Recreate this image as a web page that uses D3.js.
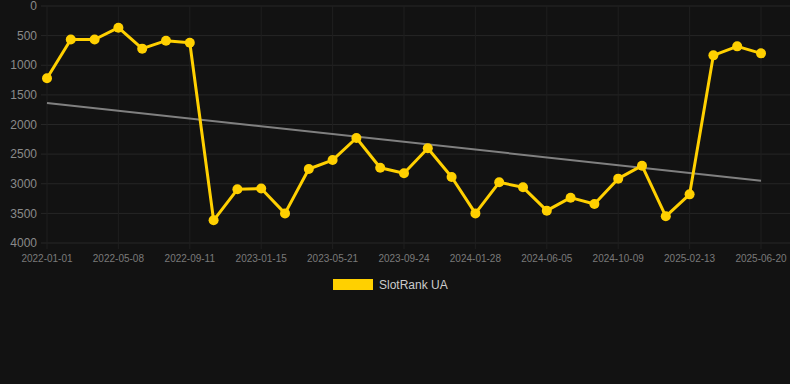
<!DOCTYPE html>
<html>
<head>
<meta charset="utf-8">
<script src="https://cdn.jsdelivr.net/npm/d3@7"></script>
<style>
  html, body { margin: 0; padding: 0; background: #121212; }
  #chart { width: 790px; height: 384px; }
  text { font-family: Arial, "Liberation Sans", sans-serif; }
</style>
</head>
<body>
<div id="chart"></div>
<script>
// point dates (categories) and ranks
let dates = [
  '2022-01-01', '2022-02-12', '2022-03-26', '2022-05-08', '2022-06-19', '2022-07-31',
  '2022-09-11', '2022-10-23', '2022-12-04', '2023-01-15', '2023-02-26', '2023-04-09',
  '2023-05-21', '2023-07-02', '2023-08-13', '2023-09-24', '2023-11-05', '2023-12-17',
  '2024-01-28', '2024-03-11', '2024-04-23', '2024-06-05', '2024-07-17', '2024-08-28',
  '2024-10-09', '2024-11-20', '2025-01-01', '2025-02-13', '2025-03-27', '2025-05-08',
  '2025-06-20'
];
let rankValues = [
  1220, 565, 565, 366, 720, 585, 619, 3617, 3094, 3080, 3500,
  2751, 2600, 2228, 2729, 2824, 2402, 2886, 3500, 2976, 3060,
  3454, 3235, 3342, 2914, 2695, 3550, 3179, 833, 681, 799
];
let tickLabels = [
  '2022-01-01', '2022-05-08', '2022-09-11', '2023-01-15', '2023-05-21', '2023-09-24',
  '2024-01-28', '2024-06-05', '2024-10-09', '2025-02-13', '2025-06-20'
];
let yTicks = [0, 500, 1000, 1500, 2000, 2500, 3000, 3500, 4000];
let trendValues = [1637, 2948]; // trend line at first and last date
let seriesName = 'SlotRank UA';

let buildChart = function() {
  let W = 790, H = 384;
  let margin = {top: 6, right: 29, bottom: 141, left: 47};
  let width = W - margin.left - margin.right;
  let height = H - margin.top - margin.bottom;

  let svg = d3.select('#chart').append('svg')
    .attr('width', W).attr('height', H);
  svg.append('rect').attr('width', W).attr('height', H).attr('fill', '#121212');

  let g = svg.append('g').attr('transform', `translate(${margin.left}, ${margin.top})`);

  let x = d3.scalePoint().domain(dates).range([0, width]);
  let y = d3.scaleLinear().domain([0, 4000]).range([0, height]);

  // horizontal grid
  g.append('g').selectAll('line').data(yTicks).join('line')
    .attr('x1', -6).attr('x2', W - margin.left)
    .attr('y1', d => y(d)).attr('y2', d => y(d))
    .attr('stroke', '#262626').attr('stroke-width', 1);
  // vertical grid
  g.append('g').selectAll('line').data(tickLabels).join('line')
    .attr('x1', d => x(d)).attr('x2', d => x(d))
    .attr('y1', 0).attr('y2', height + 6)
    .attr('stroke', '#1f1f1f').attr('stroke-width', 1);

  // y labels
  g.append('g').selectAll('text').data(yTicks).join('text')
    .attr('x', -10).attr('y', d => y(d)).attr('dy', '0.35em')
    .attr('text-anchor', 'end')
    .attr('fill', '#8a8a8a').attr('font-size', 12)
    .text(d => d);

  // x labels
  g.append('g').selectAll('text').data(tickLabels).join('text')
    .attr('x', d => x(d)).attr('y', height + 19)
    .attr('text-anchor', 'middle')
    .attr('fill', '#7a7a7a').attr('font-size', 10)
    .text(d => d);

  // trend line
  g.append('line')
    .attr('x1', x(dates[0])).attr('x2', x(dates[dates.length - 1]))
    .attr('y1', y(trendValues[0])).attr('y2', y(trendValues[1]))
    .attr('stroke', '#808080').attr('stroke-width', 2);

  let pts = dates.map((d, i) => ({date: d, value: rankValues[i]}));
  let line = d3.line().x(d => x(d.date)).y(d => y(d.value));
  g.append('path').datum(pts)
    .attr('d', line)
    .attr('fill', 'none')
    .attr('stroke', '#FFD000').attr('stroke-width', 3)
    .attr('stroke-linejoin', 'round');
  g.append('g').selectAll('circle').data(pts).join('circle')
    .attr('cx', d => x(d.date)).attr('cy', d => y(d.value))
    .attr('r', 5).attr('fill', '#FFD000');

  // legend
  let lg = svg.append('g').attr('transform', 'translate(333, 279)');
  lg.append('rect').attr('width', 40).attr('height', 11).attr('fill', '#FFD000');
  lg.append('text').attr('x', 46).attr('y', 6).attr('dy', '0.35em')
    .attr('fill', '#cccccc').attr('font-size', 12)
    .text(seriesName);
};

buildChart();
</script>
</body>
</html>
